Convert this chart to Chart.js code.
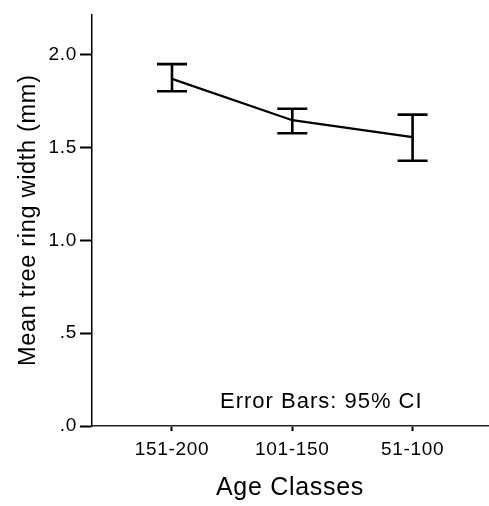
<!DOCTYPE html>
<html><head><meta charset="utf-8">
<script src="https://cdn.jsdelivr.net/npm/chart.js@4.4.0/dist/chart.umd.min.js"></script>
<style>html,body{margin:0;padding:0;background:#fff;} #wrap{width:489px;height:506px;position:relative;}</style>
</head><body><div id="wrap"><canvas id="c"></canvas></div>
<script>
const categories = ['151-200', '101-150', '51-100'];
const means = [1.870, 1.647, 1.556];
const ciLower = [1.803, 1.577, 1.429];
const ciUpper = [1.949, 1.709, 1.677];
const yTickValues = [0, 0.5, 1.0, 1.5, 2.0];
const yTickLabels = ['.0', '.5', '1.0', '1.5', '2.0'];
const yTitle = 'Mean tree ring width (mm)';
const xTitle = 'Age Classes';
const note = 'Error Bars: 95% CI';

const FONT = "'Liberation Sans', Arial, sans-serif";

const spacingPlugin = {
  id: 'spacing',
  beforeDraw(chart) { chart.ctx.letterSpacing = '0.7px'; }
};

const errorBarPlugin = {
  id: 'errorBars',
  afterDatasetsDraw(chart) {
    const ctx = chart.ctx;
    const xs = chart.scales.x, ys = chart.scales.y;
    ctx.save();
    ctx.strokeStyle = '#000';
    ctx.lineWidth = 2.6;
    ctx.lineCap = 'butt';
    const half = 15;
    means.forEach((m, i) => {
      const px = xs.getPixelForValue(i);
      const yl = ys.getPixelForValue(ciLower[i]);
      const yh = ys.getPixelForValue(ciUpper[i]);
      ctx.beginPath();
      ctx.moveTo(px, yl); ctx.lineTo(px, yh);
      ctx.moveTo(px - half, yl); ctx.lineTo(px + half, yl);
      ctx.moveTo(px - half, yh); ctx.lineTo(px + half, yh);
      ctx.stroke();
    });
    const a = chart.chartArea;
    ctx.letterSpacing = '1px';
    ctx.font = '22px ' + FONT;
    ctx.fillStyle = '#000';
    ctx.textAlign = 'left';
    ctx.textBaseline = 'alphabetic';
    ctx.fillText(note, a.left + 128, a.bottom - 18);
    ctx.restore();
  }
};

new Chart(document.getElementById('c'), {
  type: 'line',
  data: {
    datasets: [{
      data: means.map((m, i) => ({ x: i, y: m })),
      borderColor: '#000',
      borderWidth: 2.3,
      pointRadius: 0,
      tension: 0,
      fill: false
    }]
  },
  options: {
    responsive: true,
    maintainAspectRatio: false,
    animation: false,
    layout: { padding: { left: 0, top: 12, right: 1, bottom: 0 } },
    plugins: { legend: { display: false }, tooltip: { enabled: false } },
    scales: {
      x: {
        type: 'linear',
        min: -0.665,
        max: 2.627,
        afterBuildTicks(scale) { scale.ticks = categories.map((c, i) => ({ value: i })); },
        afterFit(scale) { scale.height = 80; },
        ticks: {
          callback: (v) => categories[v] !== undefined ? categories[v] : '',
          font: { family: FONT, size: 19 },
          color: '#000',
          padding: 7,
          maxRotation: 0
        },
        grid: { drawOnChartArea: false, drawTicks: true, tickLength: 5, tickWidth: 2, tickColor: '#000' },
        border: { display: true, color: '#222', width: 1.5 },
        title: {
          display: true, text: xTitle, color: '#000',
          font: { family: FONT, size: 25 },
          padding: { top: 0, bottom: 3 }
        }
      },
      y: {
        type: 'linear',
        min: 0,
        max: 2.217,
        afterBuildTicks(scale) { scale.ticks = yTickValues.map(v => ({ value: v })); },
        afterFit(scale) { scale.width = 92; },
        ticks: {
          callback: (v) => { const k = yTickValues.indexOf(v); return k >= 0 ? yTickLabels[k] : ''; },
          font: { family: FONT, size: 19 },
          color: '#000',
          padding: 3
        },
        grid: { drawOnChartArea: false, drawTicks: true, tickLength: 12, tickWidth: 2, tickColor: '#000' },
        border: { display: true, color: '#000', width: 1.5 },
        title: {
          display: true, text: yTitle, color: '#000',
          font: { family: FONT, size: 23.5 },
          padding: { top: 14, bottom: 0 }
        }
      }
    }
  },
  plugins: [spacingPlugin, errorBarPlugin]
});
</script>
</body></html>
